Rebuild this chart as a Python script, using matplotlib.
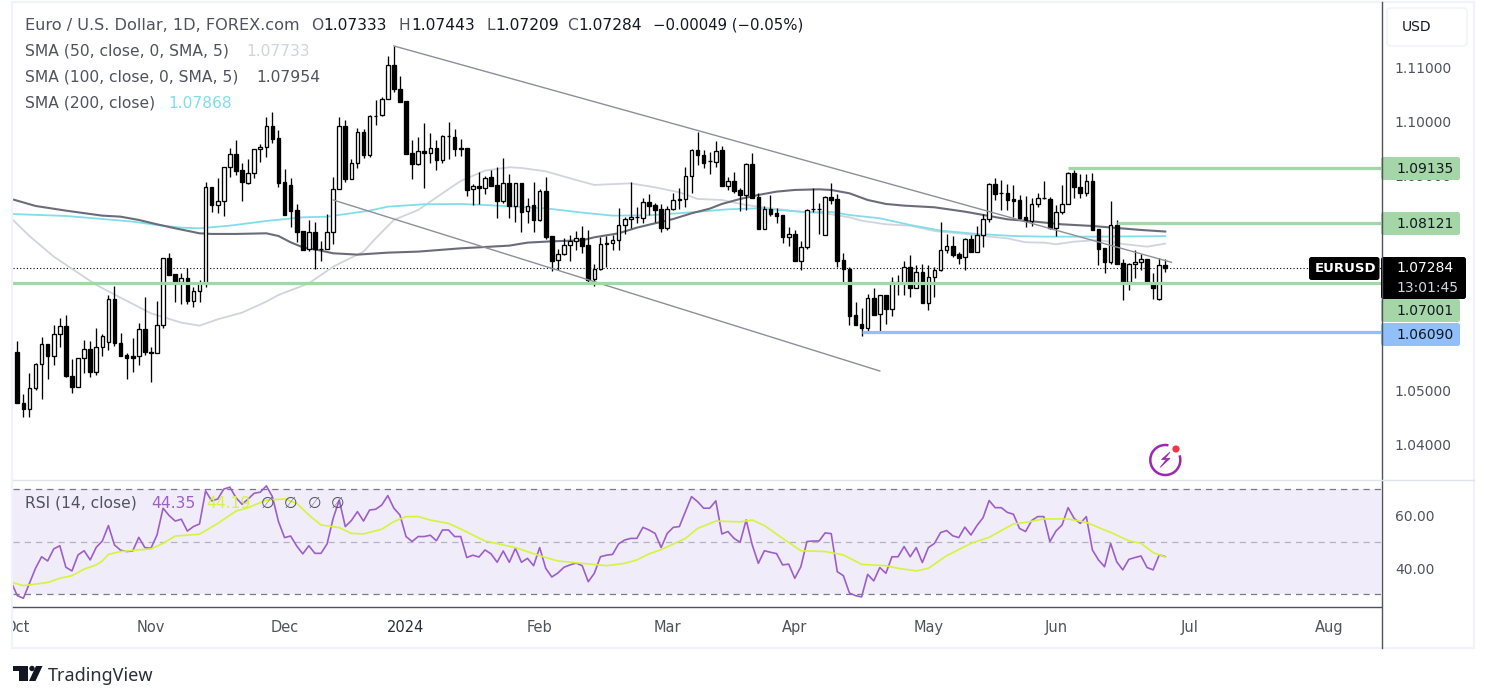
# -*- coding: utf-8 -*-
"""EUR/USD daily chart with SMAs and RSI, TradingView style."""
import numpy as np
import matplotlib
matplotlib.use("Agg")
import matplotlib.pyplot as plt
from matplotlib import patches

W, H = 1489, 692
plt.rcParams["font.family"] = ["DejaVu Sans"]

opens = [
    1.05717, 1.04764, 1.04653, 1.05043, 1.05488, 1.0586, 1.05649, 1.06045, 1.06194, 1.05278,
    1.05074, 1.056, 1.05767, 1.05352, 1.05816, 1.05909, 1.06695, 1.05891, 1.05655, 1.05637,
    1.05637, 1.06138, 1.05724, 1.05693, 1.06213, 1.07457, 1.0716, 1.07017, 1.07085, 1.06671,
    1.06856, 1.06992, 1.08775, 1.08453, 1.08515, 1.09147, 1.09388, 1.09098, 1.08862, 1.09035,
    1.09481, 1.09518, 1.09914, 1.09691, 1.08868, 1.08819, 1.08354, 1.07958, 1.07624, 1.0794,
    1.07636, 1.07636, 1.0794, 1.08738, 1.09914, 1.08936, 1.09221, 1.09797, 1.09382, 1.10094,
    1.10112, 1.10409, 1.11041, 1.10595, 1.10372, 1.09406, 1.09202, 1.09444, 1.09406, 1.09499,
    1.09289, 1.09722, 1.09704, 1.09499, 1.09499, 1.08738, 1.08806, 1.08757, 1.08961, 1.08819,
    1.08528, 1.08849, 1.08435, 1.08849, 1.08329, 1.08441, 1.08175, 1.08701, 1.07871, 1.07419,
    1.07531, 1.07698, 1.07772, 1.07828, 1.07704, 1.07067, 1.07252, 1.07717, 1.07748, 1.07791,
    1.0807, 1.08181, 1.08218, 1.082, 1.08497, 1.08441, 1.08367, 1.08026, 1.08367, 1.08534,
    1.08552, 1.08979, 1.09462, 1.09369, 1.09258, 1.09252, 1.09468, 1.08806, 1.08887, 1.08719,
    1.08639, 1.09202, 1.08589, 1.08008, 1.08367, 1.08292, 1.08255, 1.07859, 1.07902, 1.07413,
    1.07673, 1.08367, 1.08367, 1.07896, 1.08589, 1.08559, 1.07419, 1.07258, 1.06398, 1.06231,
    1.06169, 1.06714, 1.06417, 1.0677, 1.06522, 1.07023, 1.06992, 1.0729, 1.06912, 1.07197,
    1.06633, 1.07104, 1.07234, 1.07605, 1.0768, 1.07531, 1.07475, 1.0781, 1.07581, 1.07884,
    1.08181, 1.08831, 1.08664, 1.08664, 1.08552, 1.0854, 1.08218, 1.08144, 1.0846, 1.08571,
    1.08559, 1.08014, 1.08311, 1.08472, 1.09035, 1.08775, 1.08676, 1.08887, 1.07995, 1.07642,
    1.07395, 1.0807, 1.07364, 1.07023, 1.07345, 1.07382, 1.07438, 1.06992, 1.06695, 1.07333,
]
highs = [
    1.05922, 1.04937, 1.05321, 1.05507, 1.0599, 1.0586, 1.06219, 1.06343, 1.06404, 1.05581,
    1.05612, 1.0594, 1.05928, 1.06157, 1.06045, 1.06776, 1.06943, 1.06064, 1.05693, 1.05971,
    1.06262, 1.06733, 1.05816, 1.06671, 1.07457, 1.0755, 1.0716, 1.07178, 1.07271, 1.06931,
    1.07054, 1.0888, 1.08788, 1.08942, 1.09147, 1.09499, 1.09654, 1.09221, 1.09295, 1.09481,
    1.0958, 1.10075, 1.10168, 1.0984, 1.09109, 1.08942, 1.08466, 1.07958, 1.08169, 1.08138,
    1.07785, 1.0828, 1.08961, 1.10075, 1.10026, 1.09295, 1.09871, 1.09852, 1.10112, 1.10397,
    1.10447, 1.11214, 1.114, 1.10843, 1.10372, 1.09654, 1.09704, 1.09964, 1.09778, 1.09654,
    1.09747, 1.09988, 1.09858, 1.09667, 1.09499, 1.08837, 1.0906, 1.08986, 1.09097, 1.09147,
    1.0932, 1.09023, 1.08849, 1.08849, 1.08583, 1.08874, 1.08738, 1.08961, 1.07871, 1.0763,
    1.07828, 1.0789, 1.07964, 1.08057, 1.07983, 1.07352, 1.07859, 1.07871, 1.0789, 1.08391,
    1.0823, 1.08868, 1.08416, 1.08583, 1.08645, 1.08478, 1.08466, 1.08429, 1.08664, 1.08757,
    1.09147, 1.09493, 1.09809, 1.09468, 1.09438, 1.09636, 1.09543, 1.08973, 1.0906, 1.08763,
    1.09221, 1.09406, 1.08664, 1.08429, 1.08633, 1.08385, 1.08255, 1.08045, 1.07983, 1.07772,
    1.08367, 1.08757, 1.08478, 1.08614, 1.08849, 1.08651, 1.0755, 1.0729, 1.0664, 1.06534,
    1.06794, 1.069, 1.0677, 1.0677, 1.0711, 1.07147, 1.07407, 1.07519, 1.07333, 1.07345,
    1.07333, 1.07302, 1.08131, 1.07909, 1.07871, 1.07581, 1.07828, 1.07884, 1.08051, 1.0828,
    1.08849, 1.08949, 1.08911, 1.08831, 1.08819, 1.08633, 1.08614, 1.08571, 1.08664, 1.08893,
    1.08602, 1.08447, 1.08819, 1.09066, 1.09097, 1.09023, 1.09023, 1.09035, 1.07995, 1.07642,
    1.08521, 1.08169, 1.07438, 1.07364, 1.07611, 1.07537, 1.07438, 1.07191, 1.07457, 1.07443,
]
lows = [
    1.04764, 1.04504, 1.04516, 1.05012, 1.04838, 1.0521, 1.05476, 1.05816, 1.05259, 1.04962,
    1.05074, 1.05321, 1.05259, 1.0529, 1.05643, 1.05754, 1.05829, 1.05649, 1.05222, 1.05352,
    1.05476, 1.05662, 1.05166, 1.05693, 1.06157, 1.07154, 1.06652, 1.06609, 1.06609, 1.06559,
    1.06652, 1.06931, 1.08323, 1.08292, 1.08243, 1.08973, 1.09004, 1.08528, 1.08837, 1.08955,
    1.09239, 1.09345, 1.09592, 1.08788, 1.08268, 1.08045, 1.07766, 1.07611, 1.07599, 1.07252,
    1.07413, 1.07624, 1.07723, 1.08738, 1.0888, 1.08924, 1.09141, 1.09314, 1.09345, 1.09933,
    1.10094, 1.10409, 1.10552, 1.10354, 1.09388, 1.08936, 1.0919, 1.08769, 1.09233, 1.09097,
    1.09233, 1.09295, 1.09357, 1.09357, 1.0862, 1.08453, 1.08466, 1.08651, 1.088, 1.08212,
    1.0849, 1.08212, 1.08138, 1.07952, 1.08119, 1.07952, 1.08156, 1.0781, 1.07228, 1.0724,
    1.07519, 1.07413, 1.07611, 1.07562, 1.07023, 1.06949, 1.0724, 1.07302, 1.07611, 1.07611,
    1.07902, 1.08014, 1.08107, 1.08107, 1.08261, 1.08138, 1.07952, 1.07983, 1.08354, 1.08367,
    1.08416, 1.08676, 1.0919, 1.09128, 1.09023, 1.09159, 1.08806, 1.08726, 1.08676, 1.08342,
    1.08354, 1.08571, 1.08008, 1.08008, 1.08243, 1.08119, 1.07748, 1.07686, 1.07413, 1.0724,
    1.07636, 1.08323, 1.07909, 1.07896, 1.08466, 1.0729, 1.07023, 1.06219, 1.06213, 1.06021,
    1.06114, 1.06411, 1.06107, 1.06237, 1.06386, 1.06776, 1.06776, 1.06745, 1.069, 1.06633,
    1.06497, 1.06745, 1.07222, 1.07562, 1.07475, 1.07352, 1.0724, 1.07581, 1.07581, 1.07673,
    1.08138, 1.0854, 1.08354, 1.08354, 1.0823, 1.08187, 1.08045, 1.08057, 1.08416, 1.08552,
    1.07995, 1.07871, 1.0828, 1.08466, 1.08571, 1.08571, 1.08614, 1.07983, 1.07333, 1.07191,
    1.07352, 1.07345, 1.06683, 1.06869, 1.07098, 1.0724, 1.06992, 1.06702, 1.06683, 1.07209,
]
closes = [
    1.04764, 1.04653, 1.05043, 1.05488, 1.0586, 1.05649, 1.06045, 1.06194, 1.05278, 1.05074,
    1.056, 1.05767, 1.05352, 1.05816, 1.06021, 1.06695, 1.05891, 1.05649, 1.05612, 1.05612,
    1.06138, 1.05724, 1.05693, 1.06213, 1.07457, 1.07154, 1.07017, 1.07085, 1.06671, 1.06856,
    1.06992, 1.08775, 1.08453, 1.08515, 1.09147, 1.09388, 1.09085, 1.08868, 1.09035, 1.09481,
    1.09518, 1.09914, 1.09679, 1.08862, 1.08268, 1.08342, 1.07952, 1.07611, 1.0794, 1.07624,
    1.07636, 1.0794, 1.08738, 1.09914, 1.0893, 1.09221, 1.09797, 1.09382, 1.10094, 1.10106,
    1.10409, 1.11041, 1.10595, 1.10366, 1.094, 1.09202, 1.09444, 1.09406, 1.09499, 1.09289,
    1.09722, 1.09722, 1.09493, 1.09493, 1.08732, 1.08806, 1.08757, 1.08955, 1.08806, 1.08528,
    1.08849, 1.08435, 1.08849, 1.08323, 1.08435, 1.08175, 1.08701, 1.07859, 1.07407, 1.07531,
    1.07698, 1.07772, 1.07828, 1.07692, 1.07054, 1.07252, 1.07717, 1.07748, 1.07791, 1.0807,
    1.08181, 1.08218, 1.08218, 1.08497, 1.08435, 1.0836, 1.08026, 1.08367, 1.08534, 1.08552,
    1.08979, 1.09462, 1.09369, 1.09233, 1.09258, 1.09456, 1.08806, 1.08887, 1.08713, 1.08633,
    1.09202, 1.08583, 1.08008, 1.08367, 1.0828, 1.08249, 1.07859, 1.07902, 1.07413, 1.07673,
    1.08348, 1.08367, 1.08367, 1.08589, 1.0854, 1.07413, 1.07252, 1.06392, 1.06225, 1.06169,
    1.06714, 1.06411, 1.0677, 1.06522, 1.07023, 1.06992, 1.0729, 1.06912, 1.07197, 1.06633,
    1.07104, 1.07234, 1.07605, 1.0768, 1.07525, 1.07469, 1.0781, 1.07581, 1.07884, 1.08181,
    1.08831, 1.08658, 1.08664, 1.08546, 1.08528, 1.08206, 1.08144, 1.0846, 1.08571, 1.08571,
    1.08014, 1.08311, 1.08472, 1.09035, 1.08775, 1.08676, 1.08887, 1.07989, 1.07636, 1.07395,
    1.0807, 1.07352, 1.06992, 1.07345, 1.07382, 1.07438, 1.06992, 1.06912, 1.07333, 1.07284,
]

sma50_bars = [-1, 2, 6, 13, 17, 22, 27, 30, 33, 37, 41, 43, 48, 52, 57, 59, 62, 66, 70, 73,
              77, 81, 83, 87, 92, 95, 101, 105, 109, 112, 116, 120, 124, 129, 133,
              137, 139, 143, 147, 151, 156, 160, 163, 166, 169, 171, 174, 178, 182, 186, 189]
sma50_vals = [1.082, 1.07871, 1.07488, 1.06962, 1.06726, 1.06435, 1.06262, 1.06206, 1.06324,
              1.06448, 1.06652, 1.06776, 1.06992, 1.07302, 1.07581, 1.07828, 1.08169, 1.08354,
              1.08664, 1.08893, 1.09085, 1.09147, 1.09134, 1.09072, 1.08911, 1.08819, 1.08849,
              1.08775, 1.08682, 1.08559, 1.0854, 1.08447, 1.08385, 1.08323, 1.08292, 1.08218,
              1.08156, 1.08088, 1.08063, 1.07964, 1.07909, 1.07859, 1.07828, 1.07754, 1.07748,
              1.07717, 1.07766, 1.07797, 1.07723, 1.07673, 1.07729]

sma100_bars = [-1, 3, 8, 14, 17, 20, 23, 26, 30, 32, 36, 41, 43, 45, 47, 50, 52, 56, 61, 66,
               73, 77, 81, 84, 88, 93, 95, 99, 102, 105, 108, 111, 114, 116, 119, 122, 125,
               128, 132, 134, 137, 140, 143, 146, 151, 156, 160, 163, 167, 172, 177, 181,
               185, 189]
sma100_vals = [1.08559, 1.08429, 1.08342, 1.08249, 1.0823, 1.08169, 1.08088, 1.08014, 1.07921,
               1.07909, 1.07909, 1.07921, 1.07871, 1.07754, 1.07661, 1.07599, 1.0755, 1.07525,
               1.07562, 1.07581, 1.07642, 1.07667, 1.07692, 1.07748, 1.07772, 1.07791, 1.07847,
               1.07921, 1.08026, 1.08107, 1.08187, 1.08292, 1.08379, 1.08466, 1.08559, 1.08633,
               1.08695, 1.08726, 1.08738, 1.08726, 1.08664, 1.0854, 1.08466, 1.08435, 1.08404,
               1.08323, 1.08243, 1.08181, 1.08144, 1.08088, 1.08057, 1.0802, 1.07983, 1.07954]

sma200_bars = [-1, 8, 14, 19, 23, 27, 30, 35, 41, 47, 51, 58, 61, 67, 73, 78, 87, 93, 98, 104,
               111, 117, 122, 130, 134, 137, 142, 147, 152, 158, 164, 169, 178, 189]
sma200_vals = [1.0828, 1.08243, 1.08187, 1.08138, 1.08076, 1.08026, 1.08014, 1.08063, 1.0815,
               1.08218, 1.0823, 1.08342, 1.08416, 1.0846, 1.08466, 1.08441, 1.08385, 1.08305,
               1.08249, 1.08255, 1.08311, 1.08367, 1.08385, 1.08311, 1.08317, 1.08261, 1.082,
               1.08076, 1.07971, 1.07909, 1.07871, 1.07859, 1.07859, 1.07868]

rsi_vals = [
    34.6, 29.5, 28.5, 34.2, 39.9, 44.3, 42.7, 47.3, 48.5, 40.3, 38.9,
    45.0, 46.6, 43.1, 47.9, 50.3, 56.2, 48.8, 46.8, 46.3, 46.5,
    51.7, 47.8, 47.5, 52.6, 62.8, 60.0, 57.9, 58.6, 54.1, 55.8,
    56.8, 69.4, 65.6, 66.3, 70.1, 70.8, 66.8, 64.3, 66.3, 68.5,
    68.9, 71.3, 67.2, 57.7, 51.6, 52.2, 48.4, 45.4, 48.5, 45.6,
    45.6, 49.2, 58.9, 65.9, 55.8, 58.1, 61.5, 57.9, 62.1, 62.4,
    64.0, 67.6, 62.8, 60.2, 52.0, 50.1, 52.0, 52.0, 52.5, 50.4,
    54.5, 54.5, 52.0, 52.0, 44.0, 44.9, 44.2, 46.9, 45.4, 42.2,
    46.5, 42.2, 47.5, 42.2, 43.7, 40.9, 47.8, 39.9, 36.6, 38.1,
    40.3, 41.2, 41.9, 40.9, 34.8, 38.0, 44.3, 44.9, 45.2, 49.2,
    50.7, 51.3, 51.3, 55.5, 54.5, 53.2, 47.8, 53.2, 55.5, 55.8,
    61.5, 67.2, 65.3, 62.8, 62.8, 65.6, 53.0, 53.9, 51.3, 49.8,
    58.3, 48.8, 41.8, 46.6, 46.0, 45.5, 41.2, 41.5, 36.1, 40.5,
    50.1, 50.3, 50.3, 53.4, 53.1, 38.6, 37.1, 30.5, 29.5, 29.0,
    37.6, 35.1, 40.2, 38.0, 44.3, 44.3, 48.2, 44.3, 47.8, 42.1,
    47.8, 49.4, 53.5, 54.3, 52.3, 51.6, 55.6, 52.6, 56.2, 59.2,
    65.7, 63.0, 63.0, 61.2, 60.5, 55.1, 53.9, 58.1, 59.6, 59.6,
    50.1, 54.1, 56.4, 63.0, 58.9, 57.0, 59.6, 46.9, 43.1, 40.5,
    49.4, 42.4, 39.3, 43.3, 44.0, 44.6, 40.2, 39.3, 45.0, 44.35,
]
rsi_ma_bars = [-1, 1, 5, 7, 9, 11, 13, 14, 15, 17, 22, 24, 26, 30, 33, 36, 38, 41, 44, 46, 48,
               50, 53, 55, 57, 60, 62, 64, 66, 68, 71, 73, 77, 82, 86, 89, 93, 97, 100, 102,
               104, 106, 110, 112, 115, 119, 121, 123, 126, 129, 133, 136, 139, 143, 145, 148,
               150, 153, 157, 160, 164, 166, 169, 173, 176, 179, 180, 183, 185, 187, 189]
rsi_ma_vals = [34.6, 33.3, 34.5, 36.1, 37.1, 39.6, 41.2, 42.7, 45.2, 46.3, 47.3, 49.4, 52.2,
               52.9, 57.0, 61.7, 63.0, 65.9, 66.3, 64.7, 60.2, 56.4, 55.4, 53.2, 53.0, 54.8,
               57.7, 59.6, 59.6, 58.3, 57.0, 54.9, 50.3, 47.8, 44.7, 42.7, 41.8, 40.9, 41.8,
               43.1, 45.4, 47.0, 51.3, 55.1, 57.9, 57.6, 58.3, 56.2, 51.3, 46.6, 46.3, 45.0,
               41.4, 40.9, 39.9, 38.9, 39.9, 44.7, 49.4, 51.7, 56.8, 57.4, 58.7, 58.7, 57.4,
               54.5, 53.6, 50.4, 49.4, 45.9, 44.19]

# 1.06, 1.07 and 1.08 are fully covered by the price tags
price_ticks = [1.04, 1.05, 1.09, 1.10, 1.11]
rsi_ticks = [40, 60]
month_bars = [0, 22, 44, 64, 86, 107, 128, 150, 171, 193, 216]
month_labels = ["Oct", "Nov", "Dec", "2024", "Feb", "Mar", "Apr", "May", "Jun", "Jul", "Aug"]

# levels drawn on the chart: first bar, price
green_levels = [(173, 1.09135), (181, 1.08121), (-2, 1.07001)]
blue_level = (139, 1.0609)
upper_trend = ([62, 190], [1.114, 1.07383])
lower_trend = ([52, 142], [1.0854, 1.05364])

GREEN = "#a5d6a7"
BLUE = "#90bff9"
TEXT = "#50535e"
DARK = "#131722"
BORDER = "#f0f3fa"
C50 = "#d1d4dc"
C100 = "#6a6d78"
C200 = "#80deea"
PURPLE = "#9c5fc9"
LIME = "#d4f53c"
LEGEND_SIZE = 11.2
SCALE_SIZE = 10


def px_axes(fig, x0, y0, x1, y1, **kw):
    """画面のピクセル範囲 (y は上から) で Axes を作る"""
    return fig.add_axes([x0 / W, 1 - y1 / H, (x1 - x0) / W, (y1 - y0) / H], **kw)


fig = plt.figure(figsize=(W / 100, H / 100), dpi=100, facecolor="white")

# scale: bar i sits at 17.3 + 6.074 * i px
xlim = ((13 - 17.3) / 6.074, (1381 - 17.3) / 6.074)

ax = px_axes(fig, 13, 3, 1381, 479)
ax.set_xlim(xlim)
ax.set_ylim(1.11 - (479 - 67.5) / 5385, 1.11 + (67.5 - 3) / 5385)

x = np.arange(len(opens))
o, h, l, c = map(np.array, (opens, highs, lows, closes))
up = c >= o

ax.plot(sma50_bars, sma50_vals, color=C50, lw=1.3, zorder=2)
ax.plot(sma200_bars, sma200_vals, color=C200, lw=1.3, zorder=2)
ax.plot(sma100_bars, sma100_vals, color=C100, lw=1.5, zorder=2)

ax.vlines(x, l, h, color="black", lw=0.95, zorder=3)
ax.bar(x[up], (c - o)[up], bottom=o[up], width=0.6, facecolor="white",
       edgecolor="black", linewidth=0.95, zorder=4)
ax.bar(x[~up], (o - c)[~up], bottom=c[~up], width=0.6, facecolor="black",
       edgecolor="black", linewidth=0.95, zorder=4)

ax.plot(*upper_trend, color="#8d8f98", lw=1.0, zorder=5)
ax.plot(*lower_trend, color="#8d8f98", lw=1.0, zorder=5)

ax.axhline(closes[-1], color="black", lw=0.8, ls=(0, (1, 2)), zorder=1)
for start, level in green_levels:
    ax.plot([start, xlim[1]], [level, level], color=GREEN, lw=2.3, zorder=6,
            solid_capstyle="butt")
ax.plot([blue_level[0], xlim[1]], [blue_level[1]] * 2, color=BLUE, lw=2.3, zorder=6,
        solid_capstyle="butt")

ax.yaxis.tick_right()
ax.set_yticks(price_ticks, [f"{t:.5f}" for t in price_ticks])
ax.tick_params(axis="y", length=0, pad=10, labelsize=SCALE_SIZE, labelcolor=TEXT)
ax.set_xticks([])
for s in ax.spines.values():
    s.set_visible(False)

# RSI pane
ax2 = px_axes(fig, 13, 480, 1381, 606.5)
ax2.set_xlim(xlim)
ax2.set_ylim(30 - (606.5 - 594.3) / 2.625, 70 + (489.3 - 480) / 2.625)
ax2.axhspan(30, 70, facecolor="#f0ecf9", edgecolor="none", zorder=0)
ax2.axhline(70, color="#787b86", lw=0.9, ls=(0, (5, 4)), zorder=1)
ax2.axhline(50, color="#787b86", lw=0.9, ls=(0, (5, 4)), alpha=0.5, zorder=1)
ax2.axhline(30, color="#787b86", lw=0.9, ls=(0, (5, 4)), zorder=1)
ax2.plot(np.arange(-1, len(rsi_vals) - 1), rsi_vals, color=PURPLE, lw=1.2, zorder=2)
ax2.plot(rsi_ma_bars, rsi_ma_vals, color=LIME, lw=1.2, zorder=3)
ax2.yaxis.tick_right()
ax2.set_yticks(rsi_ticks, [f"{t:.2f}" for t in rsi_ticks])
ax2.tick_params(axis="y", length=0, pad=10, labelsize=SCALE_SIZE, labelcolor=TEXT)
ax2.set_xticks(month_bars, month_labels)
ax2.tick_params(axis="x", length=0, pad=10, labelsize=10.5, labelcolor=TEXT)
ax2.get_xticklabels()[3].set_color("#2a2e39")
for s in ax2.spines.values():
    s.set_visible(False)

# chrome in pixel coordinates
ov = fig.add_axes([0, 0, 1, 1], facecolor="none", zorder=10)
ov.set_xlim(0, W)
ov.set_ylim(H, 0)
ov.axis("off")


def box(x0, y0, x1, y1, color, ec="none", lw=0, r=2.5):
    ov.add_patch(patches.FancyBboxPatch(
        (x0 + r, y0 + r), x1 - x0 - 2 * r, y1 - y0 - 2 * r,
        boxstyle=f"round,pad={r},rounding_size={r}", facecolor=color, edgecolor=ec, linewidth=lw))


def label(px, py, s, color=TEXT, size=LEGEND_SIZE, **kw):
    kw.setdefault("ha", "left")
    ov.text(px, py, s, color=color, fontsize=size, va="center", **kw)


# "Oct" is cut off by the frame
ov.add_patch(patches.Rectangle((0, 606), 11.5, 42, facecolor="white", edgecolor="none"))
ov.add_patch(patches.Rectangle((12, 1.5), 1462, 646.5, facecolor="none",
                               edgecolor=BORDER, linewidth=1.6))
ov.plot([1381.5, 1381.5], [2, 648], color="#50535e", lw=1.0)
ov.plot([13, 1474], [479.5, 479.5], color="#e0e3eb", lw=1.0)
ov.plot([13, 1381], [606.5, 606.5], color="#50535e", lw=1.0)

box(1387, 8, 1467, 46, "white", ec=BORDER, lw=1.2, r=4)
label(1402, 27, "USD", color=DARK, size=SCALE_SIZE)

# header and legend
label(25, 25, "Euro / U.S. Dollar, 1D, FOREX.com", size=11.6)
for px, letter, value in [(311, "O", "1.07333"), (399, "H", "1.07443"),
                          (486, "L", "1.07209"), (567, "C", "1.07284")]:
    label(px, 25, letter)
    label(px + {"O": 12.5, "H": 12, "L": 9, "C": 11.5}[letter], 25, value, color=DARK)
label(653, 25, "\u22120.00049 (\u22120.05%)", color=DARK, size=10.7)
label(25, 51, "SMA (50, close, 0, SMA, 5)")
label(246, 51, "1.07733", color=C50)
label(25, 77, "SMA (100, close, 0, SMA, 5)")
label(256, 77, "1.07954", color=TEXT)
label(25, 103, "SMA (200, close)")
label(168, 103, "1.07868", color=C200)
label(25, 503, "RSI (14, close)")
label(151, 503, "44.35", color=PURPLE)
label(206, 503, "44.19", color=LIME)
for px in (261, 284, 308, 331):
    label(px, 503, "\u2205", color=TEXT)

# price tags
for y0, y1, s, col in [(157, 180, "1.09135", GREEN), (212, 235, "1.08121", GREEN),
                       (299, 322, "1.07001", GREEN), (323, 346, "1.06090", BLUE)]:
    box(1381, y0, 1460, y1, col)
    label(1396, (y0 + y1) / 2 + 0.5, s, color=DARK, size=SCALE_SIZE)
box(1309, 257, 1379.5, 280, "black")
label(1315, 268.5, "EURUSD", color="white", size=9.5, fontweight="bold")
box(1381, 257, 1466, 299, "black")
label(1396, 268.5, "1.07284", color="white", size=SCALE_SIZE)
label(1396, 288, "13:01:45", color="#d1d4dc", size=SCALE_SIZE)

# lightning icon
ov.add_patch(patches.Arc((1165.3, 460), 30, 30, theta1=-18, theta2=282,
                         color="#9c27b0", lw=1.8))
ov.add_patch(patches.Polygon([(1170, 452), (1161.5, 459.5), (1166.5, 459.5), (1160, 467.5),
                              (1170, 458.5), (1165, 458.5)], closed=True,
                             facecolor="#9c27b0", edgecolor="#9c27b0", lw=0.5))
ov.add_patch(patches.Circle((1176, 449), 3.6, facecolor="#f23645", edgecolor="none"))

# TradingView logo
logo = "#131722"
ov.add_patch(patches.Polygon([(13, 666), (28, 666), (28, 681), (19, 681), (19, 671), (13, 671)],
                             closed=True, facecolor=logo, edgecolor="none"))
ov.add_patch(patches.Circle((32, 668.5), 2.7, facecolor=logo, edgecolor="none"))
ov.add_patch(patches.Polygon([(36, 666), (42.5, 666), (35.5, 681), (29, 681)], closed=True,
                             facecolor=logo, edgecolor="none"))
label(48, 676, "TradingView", color="#2a2e39", size=13, family=["Noto Sans", "DejaVu Sans"])

fig.savefig("out.png", dpi=100, facecolor="white")
